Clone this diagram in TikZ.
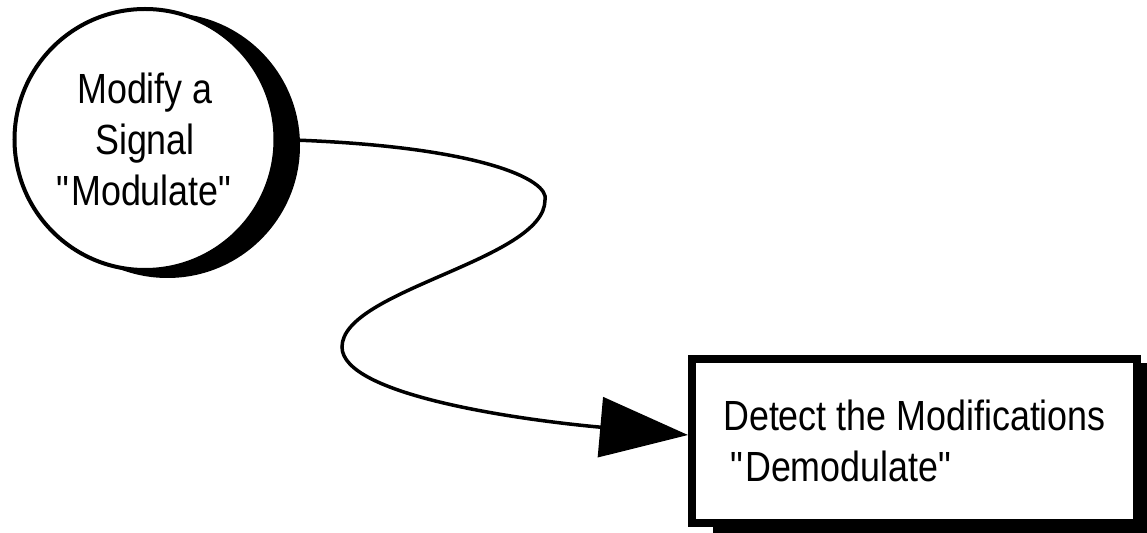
\documentclass[tikz,border=0pt]{standalone}
\usepackage{fontspec}
\setmainfont{Liberation Sans}[FakeStretch=0.85]
\newlength{\hdist}
\newlength{\vdist}
\usetikzlibrary{positioning}
\usetikzlibrary{arrows.meta}
\usetikzlibrary{shadows}
\tikzstyle{proc}=[draw, circle, fill=white, line width=0.08cm, minimum size=5.22cm, align=center, drop shadow={shadow xshift=0.45cm, shadow yshift=-0.12cm, fill=black, draw=black, opacity=1}]
\tikzstyle{outbox}=[draw, rectangle, fill=white, line width=0.16cm, minimum width=8.9cm, minimum height=3.28cm, align=left, drop shadow={shadow xshift=0.5cm, shadow yshift=-0.16cm, fill=black, draw=black, opacity=1}]

\begin{document}
\begin{tikzpicture}[inner sep=0cm, line width=0.07cm, font=\fontsize{24}{29}\selectfont, -{Triangle[length=1.76cm, width=1.2cm]}]

	\useasboundingbox (0,0) rectangle (22.94,-10.66);
	\setlength{\hdist}{10.86cm}
	\setlength{\vdist}{4.31cm}
	
	\node (circ) [proc] at (2.9,-2.79) {Modify a\\Signal\\\textquotedbl Modulate\textquotedbl};
	\node (box) [outbox, below right=\vdist and \hdist of circ.center] {Detect the Modifications\\\hspace*{0.14cm}\textquotedbl Demodulate\textquotedbl};
	
	\draw (circ.east) .. controls (9.6,-2.9) and (11.0,-3.6) .. (10.9,-4.0)
		.. controls (10.9,-5.2) and (6.84,-5.8) .. (6.84,-6.94)
		.. controls (6.84,-7.9) and (10.4,-8.4) .. ([yshift=0.12cm]box.west);
\end{tikzpicture}
\end{document}
